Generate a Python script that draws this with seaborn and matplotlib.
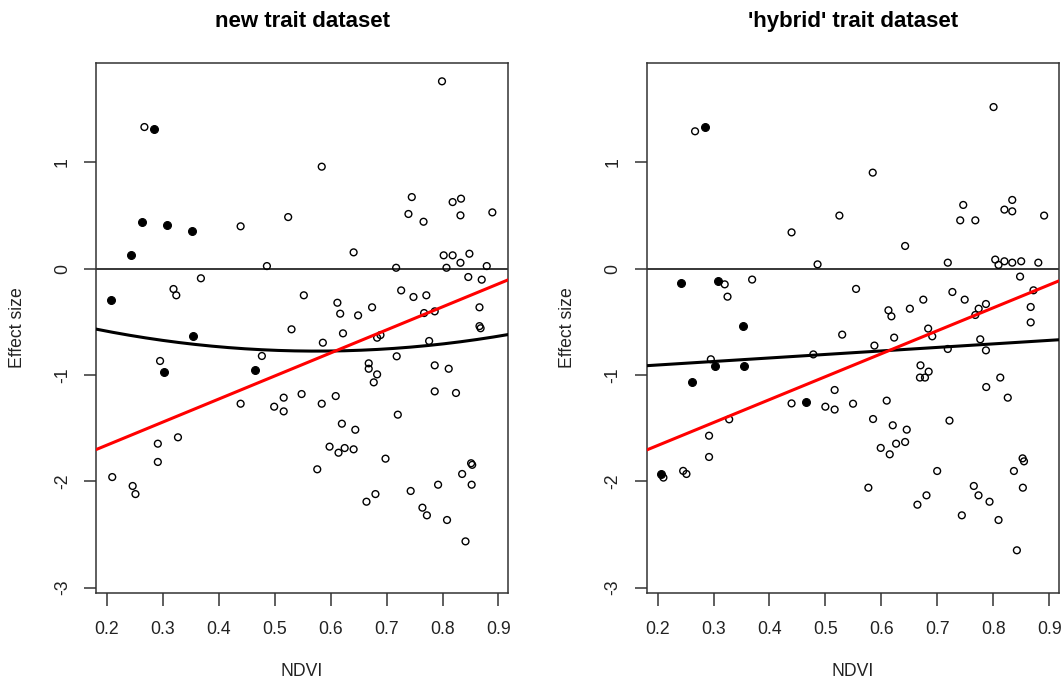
import numpy as np
import pandas as pd
import matplotlib
matplotlib.use("Agg")
import matplotlib.pyplot as plt
import seaborn as sns

# ---- data: NDVI vs effect size, two trait datasets ----
new_open_x = [0.267, 0.439, 0.524, 0.486, 0.368, 0.319, 0.324, 0.552, 0.530, 0.799,
              0.584, 0.745, 0.818, 0.833, 0.739, 0.766, 0.832, 0.889, 0.641, 0.802,
              0.818, 0.848, 0.832, 0.717, 0.807, 0.879, 0.846, 0.870, 0.726, 0.748,
              0.771, 0.612, 0.617, 0.649, 0.674, 0.767, 0.786, 0.866, 0.866, 0.868,
              0.622, 0.295, 0.477, 0.548, 0.439, 0.499, 0.516, 0.516, 0.327, 0.291,
              0.291, 0.2095, 0.246, 0.251, 0.586, 0.683, 0.689, 0.776, 0.668, 0.668,
              0.683, 0.677, 0.718, 0.786, 0.811, 0.786, 0.824, 0.584, 0.609, 0.720,
              0.620, 0.644, 0.598, 0.614, 0.625, 0.641, 0.698, 0.576, 0.851, 0.853,
              0.835, 0.792, 0.852, 0.743, 0.680, 0.664, 0.764, 0.772, 0.808, 0.841]
new_open_y = [1.333, 0.399, 0.486, 0.025, -0.090, -0.191, -0.250, -0.250, -0.570, 1.763,
              0.960, 0.674, 0.627, 0.659, 0.515, 0.442, 0.502, 0.530, 0.154, 0.126,
              0.126, 0.141, 0.056, 0.009, 0.009, 0.025, -0.078, -0.103, -0.204, -0.266,
              -0.250, -0.320, -0.423, -0.439, -0.363, -0.417, -0.401, -0.363, -0.540, -0.560,
              -0.608, -0.868, -0.821, -1.179, -1.270, -1.298, -1.213, -1.342, -1.586, -1.646,
              -1.818, -1.960, -2.044, -2.120, -0.696, -0.649, -0.624, -0.680, -0.890, -0.941,
              -0.994, -1.069, -0.824, -0.909, -0.941, -1.154, -1.169, -1.270, -1.198, -1.373,
              -1.458, -1.515, -1.674, -1.731, -1.687, -1.699, -1.787, -1.887, -1.830, -1.845,
              -1.931, -2.032, -2.032, -2.091, -2.120, -2.192, -2.248, -2.320, -2.364, -2.565]
new_filled_x = [0.284, 0.262, 0.308, 0.352, 0.243, 0.207, 0.354, 0.302, 0.464]
new_filled_y = [1.317, 0.439, 0.414, 0.355, 0.126, -0.292, -0.633, -0.969, -0.953]

hyb_open_x = [0.267, 0.4395, 0.486, 0.320, 0.325, 0.369, 0.8006, 0.5846, 0.525, 0.7464,
              0.741, 0.768, 0.834, 0.820, 0.834, 0.891, 0.6425, 0.7188, 0.8036, 0.8095,
              0.820, 0.834, 0.850, 0.8806, 0.848, 0.5548, 0.727, 0.872, 0.675, 0.749,
              0.6127, 0.618, 0.651, 0.774, 0.787, 0.768, 0.867, 0.867, 0.6837, 0.2952,
              0.4784, 0.4395, 0.4999, 0.328, 0.292, 0.292, 0.2104, 0.2457, 0.2516, 0.530,
              0.6229, 0.5876, 0.691, 0.7768, 0.787, 0.7188, 0.670, 0.6846, 0.669, 0.678,
              0.8126, 0.7875, 0.826, 0.5165, 0.5165, 0.5494, 0.6096, 0.5852, 0.6204, 0.6454,
              0.7218, 0.5989, 0.615, 0.6264, 0.6425, 0.6998, 0.5768, 0.8525, 0.855, 0.837,
              0.853, 0.7653, 0.7737, 0.7934, 0.6807, 0.6645, 0.7439, 0.8095, 0.8423]
hyb_open_y = [1.293, 0.342, 0.041, -0.147, -0.263, -0.102, 1.521, 0.904, 0.500, 0.600,
              0.455, 0.455, 0.647, 0.556, 0.540, 0.500, 0.214, 0.057, 0.086, 0.036,
              0.070, 0.057, 0.070, 0.057, -0.074, -0.190, -0.219, -0.203, -0.291, -0.291,
              -0.391, -0.448, -0.376, -0.376, -0.332, -0.435, -0.360, -0.505, -0.563, -0.852,
              -0.806, -1.267, -1.298, -1.417, -1.571, -1.771, -1.965, -1.902, -1.931, -0.620,
              -0.648, -0.723, -0.636, -0.664, -0.768, -0.755, -0.909, -0.968, -1.024, -1.024,
              -1.024, -1.113, -1.213, -1.141, -1.325, -1.270, -1.241, -1.414, -1.473, -1.514,
              -1.429, -1.686, -1.746, -1.646, -1.630, -1.903, -2.060, -1.784, -1.812, -1.903,
              -2.060, -2.044, -2.132, -2.192, -2.132, -2.220, -2.320, -2.364, -2.649]
hyb_filled_x = [0.2845, 0.2426, 0.308, 0.352, 0.3024, 0.355, 0.2623, 0.4646, 0.2068]
hyb_filled_y = [1.333, -0.131, -0.115, -0.535, -0.912, -0.912, -1.068, -1.257, -1.928]

# fitted curves: polynomial coefficients, highest power first
new_black_coef = [1.33, -1.5295, -0.3353]
new_red_coef = [2.168, -2.093]
hyb_black_coef = [0.331, -0.972]
hyb_red_coef = [2.159, -2.095]

titles = ["new trait dataset", "'hybrid' trait dataset"]
x_ticks = [0.2, 0.3, 0.4, 0.5, 0.6, 0.7, 0.8, 0.9]
y_ticks = [-3, -2, -1, 0, 1]
x_label = "NDVI"
y_label = "Effect size"

# ---- styling ----
sns.set_theme(style="white")
plt.rcParams["font.family"] = ["Liberation Sans", "DejaVu Sans"]

XLIM = (0.1805, 0.917)
YLIM = (-3.051, 1.938)
AX_COLOR = "#333333"
TXT_COLOR = "#222222"
TICK_FS = 12.7

fig = plt.figure(figsize=(10.61, 6.84), dpi=100)
fig.patch.set_facecolor("white")
ax_left = fig.add_axes([0.0905, 0.1330, 0.3883, 0.7753])
ax_right = fig.add_axes([0.6095, 0.1330, 0.3883, 0.7753])

panels = [
    (ax_left, new_open_x, new_open_y, new_filled_x, new_filled_y, new_black_coef, new_red_coef, titles[0]),
    (ax_right, hyb_open_x, hyb_open_y, hyb_filled_x, hyb_filled_y, hyb_black_coef, hyb_red_coef, titles[1]),
]

for ax, ox, oy, fx, fy, bcoef, rcoef, title in panels:
    ax.set_facecolor("white")
    ax.axhline(0, color="black", lw=1.1, zorder=1)

    open_df = pd.DataFrame({"NDVI": ox, "effect": oy})
    filled_df = pd.DataFrame({"NDVI": fx, "effect": fy})
    sns.scatterplot(data=open_df, x="NDVI", y="effect", ax=ax, marker="o",
                    s=24, facecolor="none", edgecolor="black", linewidth=1.0, zorder=2)
    sns.scatterplot(data=filled_df, x="NDVI", y="effect", ax=ax, marker="o",
                    s=32, color="black", edgecolor="black", linewidth=0.8, zorder=2)

    grid = np.linspace(XLIM[0], XLIM[1], 200)
    sns.lineplot(x=grid, y=np.polyval(bcoef, grid), ax=ax, color="black",
                 lw=2.2, sort=False, zorder=3)
    sns.lineplot(x=grid, y=np.polyval(rcoef, grid), ax=ax, color="#ff0000",
                 lw=2.2, sort=False, zorder=3)

    ax.set_xlim(*XLIM)
    ax.set_ylim(*YLIM)
    ax.set_xticks(x_ticks)
    ax.set_xticklabels([f"{t:.1f}" for t in x_ticks])
    ax.set_yticks(y_ticks)
    ax.set_yticklabels([str(t) for t in y_ticks], rotation=90, va="center")
    ax.tick_params(axis="both", which="major", direction="out", length=9, width=1.1,
                   color=AX_COLOR, labelsize=TICK_FS, labelcolor=TXT_COLOR,
                   bottom=True, left=True, top=False, right=False)
    ax.tick_params(axis="x", pad=11)
    ax.tick_params(axis="y", pad=9)
    for sp in ax.spines.values():
        sp.set_visible(True)
        sp.set_color(AX_COLOR)
        sp.set_linewidth(1.1)

    ax.set_xlabel(x_label, fontsize=TICK_FS, color=TXT_COLOR, va="center")
    ax.xaxis.set_label_coords(0.5, -0.148)
    ax.set_ylabel(y_label, fontsize=TICK_FS, color=TXT_COLOR, va="center")
    ax.yaxis.set_label_coords(-0.191, 0.5)
    ax.set_title(title, fontsize=16, fontweight="bold", color="black",
                 y=1.0786, va="center", pad=0)

fig.savefig("out.png", dpi=100, facecolor="white")
